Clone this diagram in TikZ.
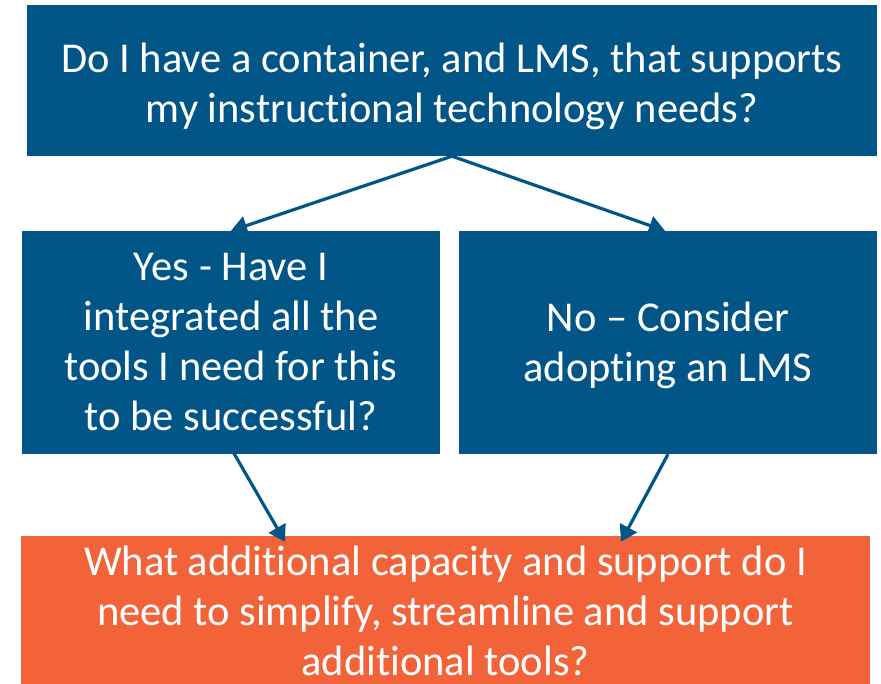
\documentclass[tikz,border=0pt]{standalone}
\usepackage{fontspec}
\setmainfont{Carlito}[Ligatures=NoCommon]
\usetikzlibrary{arrows.meta}
\definecolor{boxblue}{RGB}{2,86,135}
\definecolor{boxorange}{RGB}{242,99,58}
\tikzset{
  bluebox/.style={fill=boxblue, draw=none, inner sep=0pt},
  orangebox/.style={fill=boxorange, draw=none, inner sep=0pt},
  boxtext/.style={text=white, inner sep=0pt, align=center,
    font=\fontsize{42.5}{50}\selectfont},
  conn/.style={draw=boxblue, line width=3.2pt, -{Triangle[width=19pt,length=16pt]}},
}
\begin{document}
\begin{tikzpicture}[x=1pt,y=-1pt]
\useasboundingbox (0,0) rectangle (881,683);
\clip (0,0) rectangle (881,683);
\node[bluebox, minimum width=850, minimum height=151] (top) at (452,80.5) {};
\node[boxtext] (toptext) at (452,86)
  {Do I have a container, and LMS, that supports\\my instructional technology needs?};
\node[bluebox, minimum width=418, minimum height=223] (yes) at (231,342.5) {};
\node[boxtext] (yestext) at (231,342)
  {Yes - Have I\\integrated all the\\tools I need for this\\to be successful?};
\node[bluebox, minimum width=418, minimum height=223] (no) at (668,342.5) {};
\node[boxtext] (notext) at (668,345)
  {No – Consider\\adopting an LMS};
\node[orangebox, minimum width=849, minimum height=160] (what) at (445.5,616) {};
\node[boxtext] (whattext) at (445.5,611)
  {What additional capacity and support do I\\need to simplify, streamline and support\\additional tools?};
\draw[conn] (top.south) -- (yes.north);
\draw[conn] (top.south) -- ([xshift=-3]no.north);
\draw[conn] ([yshift=6]yes.south) -- ([xshift=-160.5,yshift=-6]what.north);
\draw[conn] (no.south) -- ([xshift=175.5,yshift=-6]what.north);
\end{tikzpicture}
\end{document}
